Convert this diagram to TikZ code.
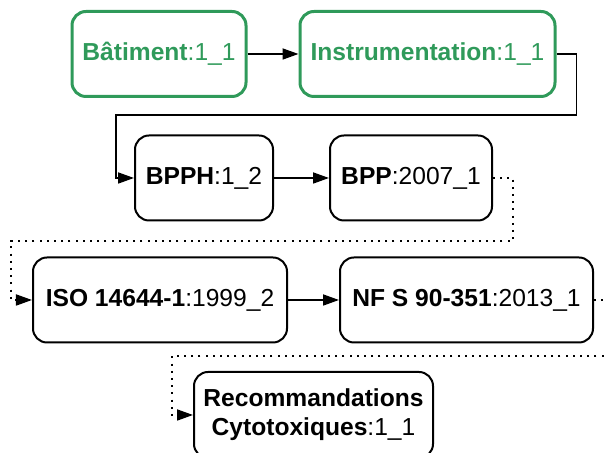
\documentclass[tikz,border=0pt]{standalone}
\usepackage{fontspec}
\setmainfont{Liberation Sans}
\usepackage{tikz}
\usetikzlibrary{arrows.meta,positioning}
\definecolor{leafgreen}{HTML}{2F9A5A}
\definecolor{ink}{HTML}{000000}
\tikzset{
  stdbox/.style={draw=ink,line width=1pt,rounded corners=7pt,
                 align=center,inner sep=2pt,minimum height=42.5pt,
                 font=\fontsize{12.3}{14.5}\selectfont},
  greenbox/.style={stdbox,draw=leafgreen,line width=1.5pt,text=leafgreen},
  solidarr/.style={-{Triangle[length=8pt,width=5.5pt]},line width=0.9pt,draw=ink},
  dotarr/.style={solidarr,dash pattern=on 1pt off 2.6pt}
}
\begin{document}
\begin{tikzpicture}[x=0.5pt,y=-0.5pt]
    \path[use as bounding box] (0,0) rectangle (607,453);
    \node[greenbox,minimum width=87pt] (bat) at (159,54)
      {\textbf{Bâtiment}:1\_1};
    \node[greenbox,minimum width=127.5pt] (instr) at (427.5,54)
      {\textbf{Instrumentation}:1\_1};
    \node[stdbox,minimum width=69pt] (bpph) at (204,178)
      {\textbf{BPPH}:1\_2};
    \node[stdbox,minimum width=81pt] (bpp) at (411,178)
      {\textbf{BPP}:2007\_1};
    \node[stdbox,minimum width=127pt] (iso) at (160,300)
      {\textbf{ISO 14644-1}:1999\_2};
    \node[stdbox,minimum width=126.5pt] (nfs) at (466.5,300)
      {\textbf{NF S 90-351}:2013\_1};
    \node[stdbox,minimum width=119.5pt,minimum height=43pt] (reco) at (313.5,415)
      {\textbf{Recommandations}\\\textbf{Cytotoxiques}:1\_1};
    \draw[solidarr] (bat) -- (instr);
    \draw[solidarr] (instr.east) -- ++(20,0) -- ++(0,61) -| ([xshift=-9pt]bpph.west) -- (bpph.west);
    \draw[solidarr] (bpph) -- (bpp);
    \draw[dotarr] (bpp.east) -- ++(20,0) -- ++(0,63) -| ([xshift=-10.5pt]iso.west) -- (iso.west);
    \draw[solidarr] (iso) -- (nfs);
    \draw[dotarr] (nfs.east) -- ++(20,0) -- ++(0,56) -| ([xshift=-10.5pt]reco.west) -- (reco.west);
  \end{tikzpicture}
\end{document}
